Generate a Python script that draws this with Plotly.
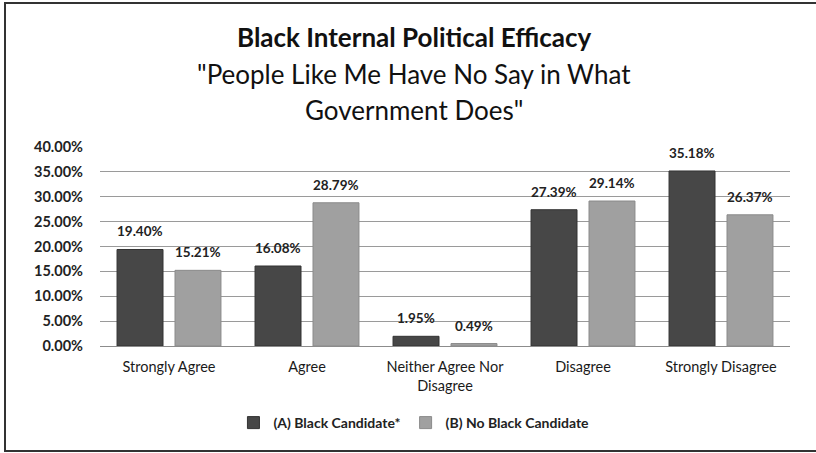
import plotly.graph_objects as go

categories = ["Strongly Agree", "Agree", "Neither Agree Nor<br>Disagree", "Disagree", "Strongly Disagree"]
series_a_name = "(A) Black Candidate*"
series_b_name = "(B) No Black Candidate"
series_a = [19.40, 16.08, 1.95, 27.39, 35.18]
series_b = [15.21, 28.79, 0.49, 29.14, 26.37]
y_ticks = [0, 5, 10, 15, 20, 25, 30, 35, 40]
y_tick_labels = [f"{v:.2f}%" for v in y_ticks]

FONT = "Lato, 'Open Sans', sans-serif"

# plot area in pixels: x 100..790, y 147..346
L, R, T, B = 100, 26, 147, 107
W, H = 816, 453
pw, ph = W - L - R, H - T - B

BARGAP = 0.16
GROUPGAP = 0.207
slot_px = pw / len(categories) * (1 - BARGAP) / 2

def px_x(x):
    return (x - L) / pw

def px_y(y):
    return (H - B - y) / ph

fig = go.Figure()
fig.add_trace(go.Bar(
    x=categories, y=series_a, name=series_a_name,
    marker=dict(color="#474747", line=dict(color="#333333", width=1)),
))
fig.add_trace(go.Bar(
    x=categories, y=series_b, name=series_b_name,
    marker=dict(color="#a0a0a0", line=dict(color="#8a8a8a", width=1)),
))

annotations = []
for vals, sh in ((series_a, -slot_px / 2), (series_b, slot_px / 2)):
    for c, v in zip(categories, vals):
        annotations.append(dict(
            x=c, y=v, xref="x", yref="y", text=f"{v:.2f}%", showarrow=False,
            xanchor="center", yanchor="bottom", xshift=sh, yshift=8,
            font=dict(family=FONT, size=13.5, color="#222222", weight="bold"),
        ))

for txt, yy in (("<b>Black Internal Political Efficacy</b>", 37),
                ('"People Like Me Have No Say in What', 74),
                ('Government Does"', 110)):
    annotations.append(dict(
        text=txt, x=px_x(414), y=px_y(yy), xref="paper", yref="paper",
        showarrow=False, xanchor="center", yanchor="middle",
        font=dict(family=FONT, size=26, color="#111111"),
    ))

fig.update_layout(
    width=W, height=H,
    margin=dict(l=L, r=R, t=T, b=B),
    paper_bgcolor="white", plot_bgcolor="white",
    barmode="group", bargap=BARGAP, bargroupgap=GROUPGAP,
    font=dict(family=FONT, size=12, color="#222222"),
    showlegend=True,
    legend=dict(orientation="h", x=0.455, xanchor="center", y=px_y(423), yanchor="middle",
                font=dict(family=FONT, size=14, color="#222222", weight="bold"),
                itemwidth=30, traceorder="normal"),
    xaxis=dict(tickfont=dict(family=FONT, size=14.5, color="#1a1a1a"), showline=True,
               linecolor="#8c8c8c", linewidth=1, ticks="", ticklabelstandoff=8),
    yaxis=dict(range=[0, 40], tickvals=y_ticks, ticktext=y_tick_labels,
               tickfont=dict(family=FONT, size=14.5, color="#222222", weight="bold"),
               showgrid=True, gridcolor="#9a9a9a", gridwidth=1, zeroline=False,
               ticklabelstandoff=16),
    annotations=annotations,
    shapes=[
        dict(type="rect", xref="paper", yref="paper",
             x0=px_x(5), x1=px_x(830), y0=px_y(451), y1=px_y(3),
             line=dict(color="#333333", width=2), fillcolor="rgba(0,0,0,0)", layer="below"),
    ],
)

fig.write_html("out.html")
